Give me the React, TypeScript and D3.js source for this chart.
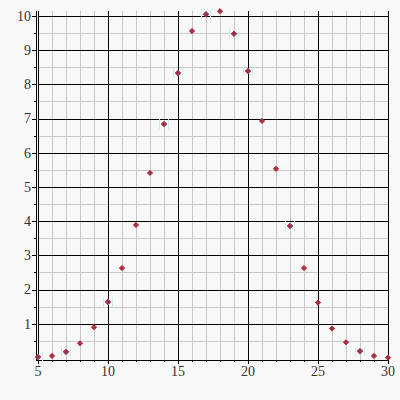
import React from "react";
import * as d3 from "d3";

// Full sample: x and measured value
const xs = [5, 6, 7, 8, 9, 10, 11, 12, 13, 14, 15, 16, 17, 18, 19, 20, 21, 22, 23, 24, 25, 26, 27, 28, 29, 30];
const redValues = [0.03, 0.06, 0.18, 0.43, 0.9, 1.64, 2.63, 3.89, 5.41, 6.84, 8.33, 9.56, 10.05, 10.14, 9.48, 8.39, 6.93, 5.53, 3.86, 2.63, 1.62, 0.86, 0.46, 0.2, 0.06, 0.01];

// Subset highlighted in blue
const blueXs = [5, 7, 10, 14, 15, 17, 19, 20, 23, 28];
const blueValues = [0.03, 0.18, 1.64, 6.84, 8.33, 10.05, 9.48, 8.39, 3.86, 0.2];

const xTicks = [5, 10, 15, 20, 25, 30];
const yTicks = [1, 2, 3, 4, 5, 6, 7, 8, 9, 10];

const W = 400;
const H = 400;

// snap a coordinate onto the pixel centre for crisp 1px lines
const px = (v: number) => Math.round(v) + 0.5;

export default function App() {
  const x = d3.scaleLinear().domain([5, 30]).range([38, 388]);
  const y = d3.scaleLinear().domain([-0.05, 10.14]).range([359.7, 11.2]);
  const [yBottom, yTop] = y.range();
  const axisX = 36;

  const minorX = d3.range(5, 31, 1);
  const minorY = d3.range(0.5, 10.01, 0.5);
  // rotated square marker
  const diamond = (r: number) => `M0,${-r}L${r},0L0,${r}L${-r},0Z`;
  const font = "'Liberation Serif', 'Times New Roman', 'DejaVu Serif', serif";

  return (
    <svg
      width={W}
      height={H}
      style={{ position: "absolute", left: 0, top: 0, background: "#f8f8f8" }}
    >
      <rect width={W} height={H} fill="#f8f8f8" />
      <g shapeRendering="crispEdges">
        {/* minor grid */}
        {minorX.map((v) => (
          <line key={"mx" + v} x1={px(x(v))} x2={px(x(v))} y1={yTop} y2={yBottom} stroke="#c8c8c8" strokeWidth={1} />
        ))}
        {minorY.map((v) => (
          <line key={"my" + v} x1={x(5)} x2={x(30)} y1={px(y(v))} y2={px(y(v))} stroke="#c8c8c8" strokeWidth={1} />
        ))}
        {/* major grid */}
        {xTicks.map((v) => (
          <line key={"gx" + v} x1={px(x(v))} x2={px(x(v))} y1={yTop} y2={yBottom} stroke="#000" strokeWidth={1} />
        ))}
        {yTicks.map((v) => (
          <line key={"gy" + v} x1={x(5)} x2={x(30)} y1={px(y(v))} y2={px(y(v))} stroke="#000" strokeWidth={1} />
        ))}
        {/* axes */}
        <line x1={px(axisX)} x2={px(axisX)} y1={yTop} y2={yBottom} stroke="#000" strokeWidth={1} />
        <line x1={axisX} x2={x(30) + 1} y1={px(yBottom)} y2={px(yBottom)} stroke="#000" strokeWidth={1} />
        {/* y ticks */}
        {minorY.map((v) => (
          <line
            key={"ty" + v}
            x1={axisX}
            x2={Number.isInteger(v) ? axisX - 4 : axisX - 2}
            y1={px(y(v))}
            y2={px(y(v))}
            stroke="#000"
            strokeWidth={1}
          />
        ))}
        {/* x ticks */}
        {minorX.map((v) => (
          <line
            key={"tx" + v}
            x1={px(x(v))}
            x2={px(x(v))}
            y1={yBottom}
            y2={v % 5 === 0 ? yBottom + 4 : yBottom + 2.5}
            stroke="#000"
            strokeWidth={1}
          />
        ))}
      </g>
      {yTicks.map((v) => (
        <text
          key={"ly" + v}
          x={31}
          y={y(v)}
          dy="0.35em"
          textAnchor="end"
          fontFamily={font}
          fontSize={14}
          fill="#333"
        >
          {v}
        </text>
      ))}
      {xTicks.map((v) => (
        <text
          key={"lx" + v}
          x={x(v)}
          y={376}
          textAnchor="middle"
          fontFamily={font}
          fontSize={14}
          fill="#333"
        >
          {v}
        </text>
      ))}
      {/* blue series */}
      {blueXs.map((v, i) => (
        <g key={"b" + v} transform={`translate(${px(x(v)) - 0.5},${y(blueValues[i])})`}>
          <rect x={-5} y={-5} width={1} height={10} fill="#c2f0f8" />
          <rect x={4} y={-5} width={1} height={10} fill="#c2f0f8" />
          <path d={diamond(3.3)} fill="#6a9ad0" />
        </g>
      ))}
      {/* red series */}
      {xs.map((v, i) => (
        <path
          key={"r" + v}
          transform={`translate(${px(x(v)) - 0.5},${y(redValues[i])})`}
          d={diamond(2.6)}
          fill="#8a3a5a"
          stroke="#d42020"
          strokeWidth={1}
        />
      ))}
    </svg>
  );
}
